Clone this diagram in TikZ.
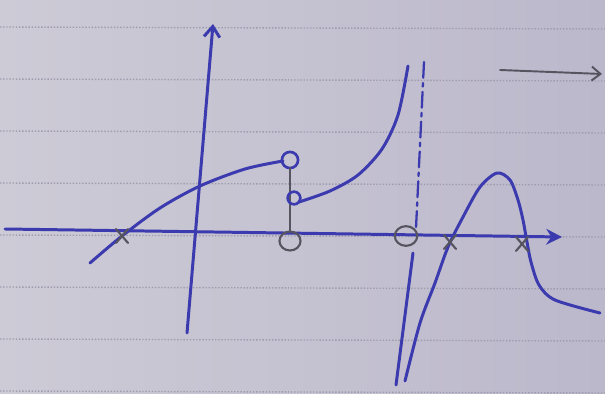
\documentclass[tikz,border=0pt]{standalone}
\usetikzlibrary{arrows.meta}
\definecolor{cpaper}{HTML}{CDCBD6}
\definecolor{cpaperdark}{HTML}{BCB8CC}
\definecolor{crule}{HTML}{9E9BAE}
\definecolor{cink}{HTML}{3B3AAE}
\definecolor{cpencil}{HTML}{55545F}
\tikzset{
  ink/.style={draw=cink, line width=1.7pt, line cap=round, line join=round},
  pencil/.style={draw=cpencil, line width=1.1pt, line cap=round},
  ruled/.style={draw=crule, line width=0.8pt, densely dotted},
  cross/.style={pencil, line width=1.2pt},
  hole/.style={draw=cpencil, line width=1.2pt, x radius=6pt, y radius=5.4pt},
}
\begin{document}
\begin{tikzpicture}[x=0.02cm, y=-0.02cm]
  % paper
  \shade[left color=cpaper, right color=cpaperdark] (0,0) rectangle (605,394);
  \useasboundingbox (0,0) rectangle (605,394);
  \foreach \y in {27,79,131,183,235,287,339,391}
    \draw[ruled] (0,\y) -- (605,\y+2);

  % axes
  \coordinate (xl) at (5,229);
  \coordinate (xr) at (562,237);
  \coordinate (yb) at (187,333);
  \coordinate (yt) at (213,24);
  \draw[ink, -{Stealth[length=9pt, width=9pt]}] (xl) -- (xr);
  \draw[ink, -{Straight Barb[length=6pt, width=9pt]}] (yb) -- (yt);

  % first branch
  \draw[ink] plot[smooth] coordinates {(90,263) (122,236) (160,208) (200,186) (245,169) (283,161)};
  \draw[ink, line width=1.5pt] (290,160) circle[radius=4.6pt];
  \coordinate (jumptop) at (290,168);
  \coordinate (jumpbot) at (290,231);
  \draw[pencil, line width=0.8pt] (jumptop) -- (jumpbot);
  \draw[ink, line width=1.5pt] (294,198) circle[radius=3.6pt];

  % second branch up to the asymptote
  \draw[ink] plot[smooth] coordinates {(299,202) (330,191) (358,175) (382,149) (398,115) (408,66)};

  % asymptote
  \coordinate (at) at (424,62);
  \coordinate (am) at (416,228);
  \coordinate (an) at (413,253);
  \coordinate (ab) at (396,385);
  \draw[ink, line width=1.3pt, dash pattern=on 9pt off 3pt on 2pt off 3pt] (at) -- (am);
  \draw[ink] (an) -- (ab);

  % third branch
  \draw[ink] plot[smooth] coordinates {(405,381) (420,323) (435,283) (448,247) (463,217) (480,187) (497,173) (510,180) (518,200) (523,220) (527,242) (531,262) (539,285) (555,300) (600,313)};

  % zeros and holes on the axis
  \foreach \x/\y in {122/236, 450/242, 522/244} {
    \draw[cross] (\x-6,\y-7) -- (\x+6,\y+7);
    \draw[cross] (\x-6,\y+7) -- (\x+6,\y-7);
  }
  \draw[hole] (290,241) ellipse[];
  \draw[hole, x radius=6.4pt, y radius=5.6pt] (406,236) ellipse[];

  % arrow in the corner
  \coordinate (cl) at (500,70);
  \coordinate (cr) at (602,74);
  \draw[pencil, -{Straight Barb[length=5pt, width=8pt]}] (cl) -- (cr);
\end{tikzpicture}
\end{document}
